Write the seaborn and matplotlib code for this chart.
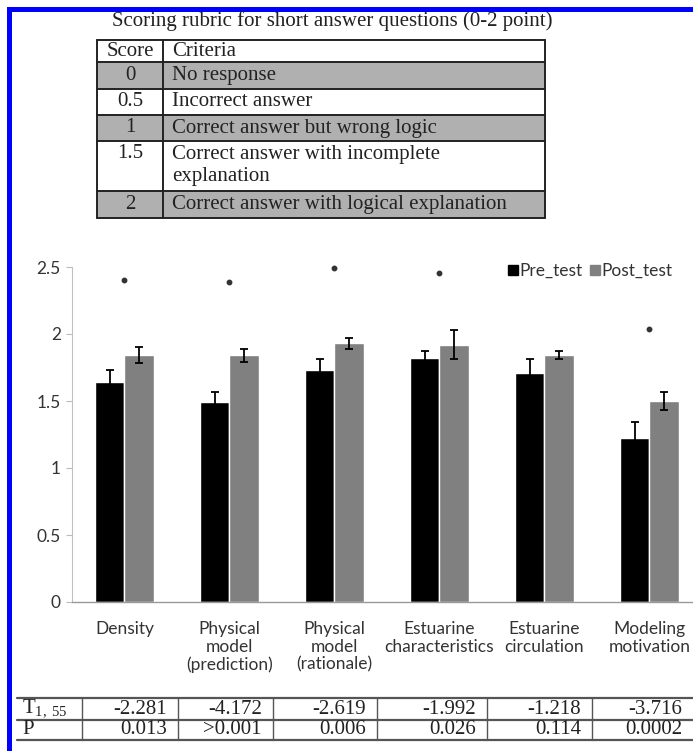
import numpy as np
import pandas as pd
import matplotlib
matplotlib.use("Agg")
import matplotlib.pyplot as plt
import seaborn as sns
from matplotlib.patches import Rectangle
from matplotlib.lines import Line2D

# ---------------- data ----------------
categories = ["Density", "Physical\nmodel\n(prediction)", "Physical\nmodel\n(rationale)",
              "Estuarine\ncharacteristics", "Estuarine\ncirculation", "Modeling\nmotivation"]
tests = ["Pre_test", "Post_test"]
pre_scores = [1.64, 1.49, 1.73, 1.82, 1.71, 1.225]
post_scores = [1.84, 1.84, 1.93, 1.92, 1.84, 1.50]
pre_err = [0.09, 0.08, 0.08, 0.05, 0.10, 0.115]
post_err = [0.06, 0.05, 0.04, 0.11, 0.03, 0.065]
sig_marks = [2.40, 2.39, 2.49, 2.455, np.nan, 2.04]
yticks = [0, 0.5, 1, 1.5, 2, 2.5]
ytick_labels = ["0", "0.5", "1", "1.5", "2", "2.5"]

rubric_title = "Scoring rubric for short answer questions (0-2 point)"
rubric_scores = ["Score", "0", "0.5", "1", "1.5", "2"]
rubric_criteria = ["Criteria", "No response", "Incorrect answer", "Correct answer but wrong logic",
                   "Correct answer with incomplete\nexplanation", "Correct answer with logical explanation"]

t_values = ["-2.281", "-4.172", "-2.619", "-1.992", "-1.218", "-3.716"]
p_values = ["0.013", ">0.001", "0.006", "0.026", "0.114", "0.0002"]

# ---------------- setup ----------------
sns.set_style("white")
plt.rcParams["font.family"] = ["Lato", "DejaVu Sans"]
plt.rcParams["mathtext.fontset"] = "custom"
plt.rcParams["mathtext.rm"] = "Liberation Serif"

W, H = 693, 751
fig = plt.figure(figsize=(W / 100, H / 100), dpi=100)

def fx(x):
    return x / W

def fy(y):
    return 1 - y / H

def rect(x0, y0, x1, y1, **kw):
    fig.add_artist(Rectangle((fx(x0), fy(y1)), fx(x1) - fx(x0), (y1 - y0) / H,
                             transform=fig.transFigure, **kw))

def hline(x0, x1, y, **kw):
    fig.add_artist(Line2D([fx(x0), fx(x1)], [fy(y), fy(y)], transform=fig.transFigure, **kw))

def vline(x, y0, y1, **kw):
    fig.add_artist(Line2D([fx(x), fx(x)], [fy(y0), fy(y1)], transform=fig.transFigure, **kw))

# blue frame
rect(7, 7, 693, 12, facecolor="#0000ff", edgecolor="none")
rect(7, 7, 12, 751, facecolor="#0000ff", edgecolor="none")

# ---------------- bar chart ----------------
ax = fig.add_axes([fx(72), fy(602), fx(702) - fx(72), (602 - 267) / H])
df = pd.DataFrame({
    "Category": categories * 2,
    "Test": [tests[0]] * len(categories) + [tests[1]] * len(categories),
    "Score": pre_scores + post_scores,
})
sns.barplot(data=df, x="Category", y="Score", hue="Test", order=categories, hue_order=tests,
            palette=["#000000", "#808080"], width=0.56, errorbar=None, saturation=1,
            legend=False, ax=ax)

for cont, errs in zip(ax.containers, [pre_err, post_err]):
    for bar, e in zip(cont, errs):
        xc = bar.get_x() + bar.get_width() / 2
        ax.errorbar(xc, bar.get_height(), yerr=e, color="black", capsize=3,
                    elinewidth=1.3, capthick=1.3, linestyle="none")

ax.plot(np.arange(len(categories)), sig_marks, "o", ms=3.2, color="#333333",
        linestyle="none", clip_on=False)

FS = 12.5
ax.set_xlim(-0.5, 5.5)
ax.set_ylim(0, 2.5)
ax.set_yticks(yticks)
ax.set_yticklabels(ytick_labels, fontsize=FS, color="#333333")
ax.set_xticks(range(len(categories)))
ax.set_xticklabels(categories, fontsize=FS, color="#333333", linespacing=1.12)
ax.set_xticks(np.arange(0.5, 5.5, 1), minor=True)
ax.tick_params(axis="x", which="major", length=0, pad=14)
ax.tick_params(axis="x", which="minor", length=4, color="#999999", width=0.8)
ax.tick_params(axis="y", length=4, color="#bbbbbb", width=0.8, pad=4, left=True)
ax.set_xlabel("")
ax.set_ylabel("")
for s in ["top", "right"]:
    ax.spines[s].set_visible(False)
ax.spines["left"].set_color("#c0c0c0")
ax.spines["left"].set_linewidth(0.8)
ax.spines["bottom"].set_color("#999999")
ax.spines["bottom"].set_linewidth(1.0)

handles = [Line2D([], [], marker="s", ms=6.5, color=c, linestyle="none") for c in ["#000000", "#808080"]]
ax.legend(handles, tests, loc="center left", bbox_to_anchor=(fx(500), fy(271)),
          bbox_transform=fig.transFigure, ncol=2, frameon=False, handlelength=0.5,
          handletextpad=0.1, columnspacing=0.5, borderpad=0, fontsize=FS,
          labelcolor="#333333")

# ---------------- rubric table ----------------
serif = ["Liberation Serif", "DejaVu Serif"]
TFS = 15
fig.text(fx(332), fy(21), rubric_title, family=serif, fontsize=TFS, ha="center", va="center",
         color="#222222")
row_edges = [40, 62, 89, 115, 141, 191, 218]
tx0, tx1, tsep = 97, 545, 163
for i in range(len(rubric_scores)):
    y0, y1 = row_edges[i], row_edges[i + 1]
    if i in (1, 3, 5):
        rect(tx0, y0, tx1, y1, facecolor="#b0b0b0", edgecolor="none")
    if i == 4:
        lines = rubric_criteria[i].split("\n")
        fig.text(fx((tx0 + tsep) / 2), fy(y0 + 13), rubric_scores[i], family=serif, fontsize=TFS,
                 ha="center", va="center", color="#222222")
        fig.text(fx(172), fy(y0 + 13), lines[0], family=serif, fontsize=TFS, ha="left",
                 va="center", color="#222222")
        fig.text(fx(172), fy(y0 + 36), lines[1], family=serif, fontsize=TFS, ha="left",
                 va="center", color="#222222")
    else:
        yc = (y0 + y1) / 2
        fig.text(fx((tx0 + tsep) / 2), fy(yc), rubric_scores[i], family=serif, fontsize=TFS,
                 ha="center", va="center", color="#222222")
        fig.text(fx(172), fy(yc), rubric_criteria[i], family=serif, fontsize=TFS, ha="left",
                 va="center", color="#222222")
for y in row_edges:
    hline(tx0, tx1, y, color="#222222", lw=1.4)
for x in (tx0, tsep, tx1):
    vline(x, row_edges[0], row_edges[-1], color="#222222", lw=1.4)

# ---------------- statistics table ----------------
col_edges = [17, 82, 178, 273, 377, 487, 592]
bt_top, bt_mid, bt_bot = 698, 720, 740
for y in (bt_top, bt_mid, bt_bot):
    hline(17, 693, y, color="#555555", lw=1.6)
for x in col_edges[1:]:
    vline(x, bt_top, bt_bot, color="#555555", lw=1.0)
fig.text(fx(22), fy(709), r"T$_{\mathrm{1,\,55}}$", family=serif, fontsize=15, ha="left",
         va="center", color="#222222")
fig.text(fx(22), fy(730), "P", family=serif, fontsize=15, ha="left", va="center", color="#222222")
right_edges = col_edges[2:] + [693]
for i, (tv, pv) in enumerate(zip(t_values, p_values)):
    xr = right_edges[i] - 11
    fig.text(fx(xr), fy(709), tv, family=serif, fontsize=15, ha="right", va="center",
             color="#222222")
    fig.text(fx(xr), fy(730), pv, family=serif, fontsize=15, ha="right", va="center",
             color="#222222")

fig.savefig("out.png", dpi=100)
